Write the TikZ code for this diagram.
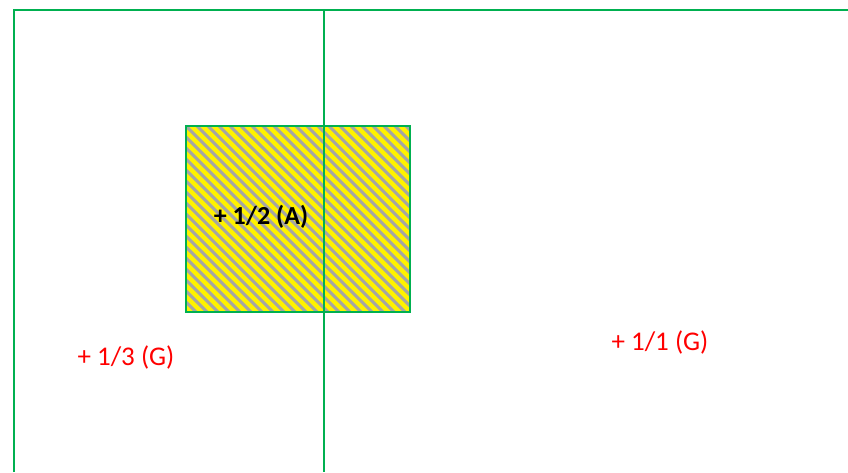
\documentclass[tikz,border=0pt]{standalone}
\usepackage{fontspec}
\setmainfont{Carlito}
\definecolor{framegreen}{RGB}{0,176,80}
\definecolor{stripegray}{RGB}{165,165,165}
\definecolor{labelred}{RGB}{255,0,0}
\tikzset{
  frameline/.style={draw=framegreen,line width=1.6pt},
  gain/.style={text=labelred,font=\fontsize{27}{32}\selectfont,inner sep=0pt},
  bonus/.style={text=black,font=\bfseries\fontsize{26}{31}\selectfont,inner sep=0pt}
}
\begin{document}
\begin{tikzpicture}[x=1pt,y=-1pt]
\useasboundingbox (0,0) rectangle (848,472);
% hatched box
\fill[yellow] (186,126) rectangle (410,312);
\begin{scope}
\clip (186,126) rectangle (410,312);
\foreach \s in {-198,-187,...,240}
  \draw[stripegray,line width=3pt] (186+\s,126) -- (372+\s,312);
\end{scope}
\draw[frameline] (186,126) rectangle (410,312);
% frame
\draw[frameline] (14,472) -- (14,10) -- (848,10);
\draw[frameline] (324,10) -- (324,472);
% labels
\node[bonus] (half) at (261,217) {+ 1/2 (A)};
\node[gain] (third) at (126,357) {+ 1/3 (G)};
\node[gain] (whole) at (660,342) {+ 1/1 (G)};
\end{tikzpicture}
\end{document}
